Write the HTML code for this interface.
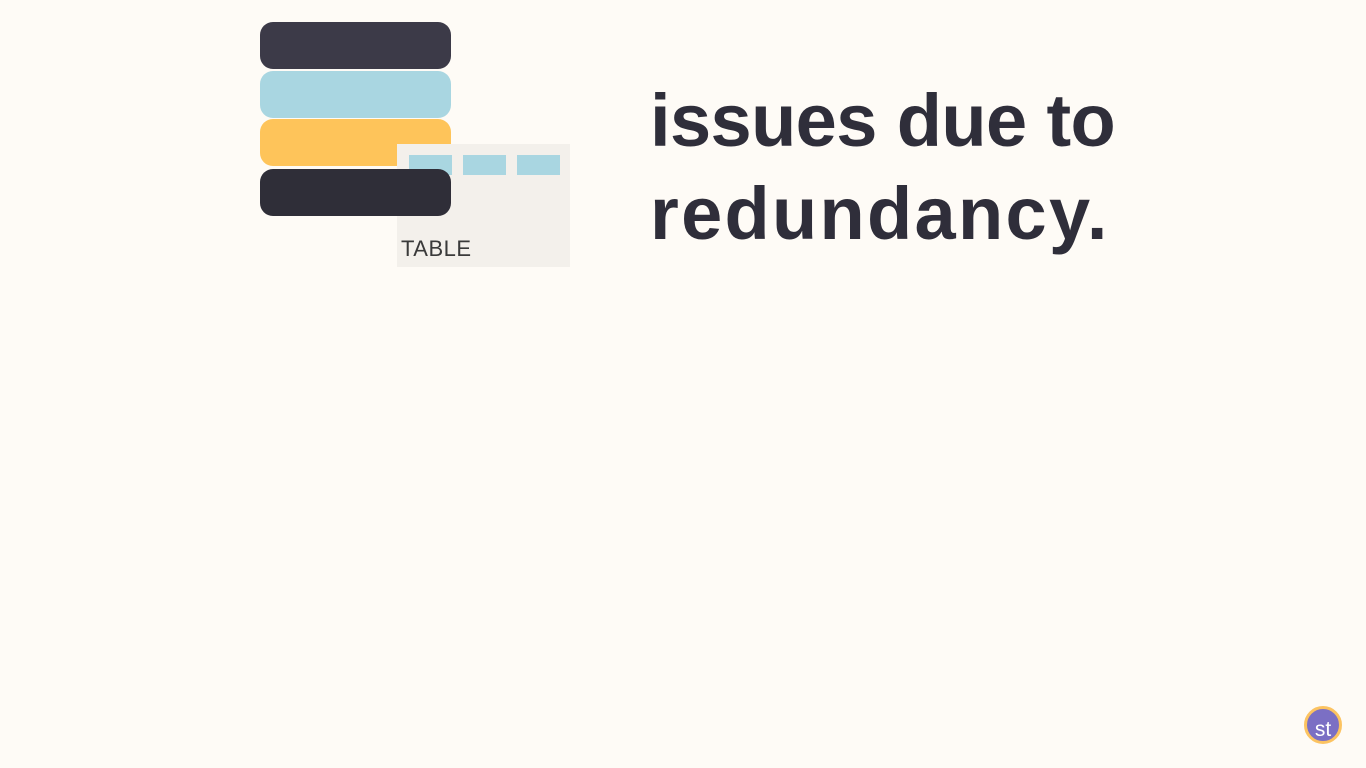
<!DOCTYPE html>
<html><head><style>
body{margin:0;width:1366px;height:768px;background:#fefbf6;position:relative;overflow:hidden;font-family:"Liberation Sans",sans-serif}
.b{position:absolute;left:260px;width:191px;height:47px;border-radius:13px}
.r{position:absolute;top:155px;height:20px;width:43px;background:#a9d6e1}
.h{position:absolute;left:650px;font-weight:bold;font-size:74px;color:#2f2e3a;line-height:1;white-space:nowrap}
</style></head><body>
<div class="b" style="top:22px;background:#3c3a48"></div>
<div class="b" style="top:71px;background:#a9d6e1"></div>
<div class="b" style="top:119px;background:#fec45a"></div>
<div style="position:absolute;left:397px;top:144px;width:173px;height:123px;background:#f3f0eb"></div>
<div class="r" style="left:409px"></div>
<div class="r" style="left:463px"></div>
<div class="r" style="left:517px"></div>
<div class="b" style="top:169px;background:#2f2e38"></div>
<div style="position:absolute;left:401px;top:236px;font-size:22px;color:#3a3a3a;letter-spacing:0.5px">TABLE</div>
<div class="h" style="top:84px;letter-spacing:-0.6px">issues due to</div>
<div class="h" style="top:177px;letter-spacing:2.3px">redundancy.</div>
<div style="position:absolute;left:1304px;top:706px;width:32px;height:32px;border-radius:50%;background:#7b6fc4;border:3px solid #fcc361;color:#fff;font-size:21px;text-align:center;line-height:42px">st</div>
</body></html>
